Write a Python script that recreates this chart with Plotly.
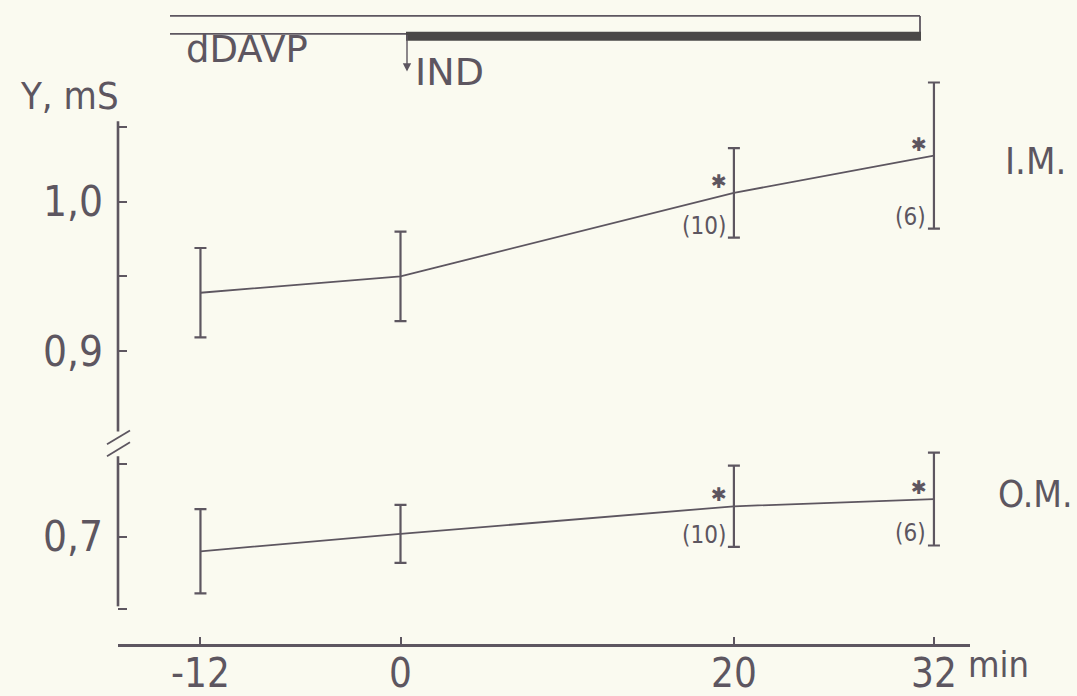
import plotly.graph_objects as go

# ---- data ----------------------------------------------------------------
minutes = [-12, 0, 20, 32]
im_mean = [0.939, 0.950, 1.006, 1.031]   # inner medulla
im_err = [0.030, 0.030, 0.030, 0.049]
om_mean = [0.690, 0.702, 0.721, 0.726]   # outer medulla
om_err = [0.029, 0.020, 0.028, 0.032]
n_labels = ["", "", "(10)", "(6)"]
signif = [False, False, True, True]

upper_ticks = [0.90, 0.95, 1.00, 1.05]
upper_text = ["0,9", "", "1,0", ""]
lower_ticks = [0.65, 0.70, 0.75]
lower_text = ["", "0,7", ""]
x_ticks = [-12, 0, 20, 32]
x_text = ["-12", "0", "20", "32"]

# ---- style ---------------------------------------------------------------
W, H = 1077, 696
K = 650 / 637            # vertical layout stretch
INK = "#5d5660"
BG = "#fafaf0"
FONT = "DejaVu Sans Condensed, DejaVu Sans, sans-serif"
WIDE = "DejaVu Sans, sans-serif"


def px(x):
    return x / W


def py(y):
    return 1 - y * K / H


fig = go.Figure()

for mean, err, axis in [(im_mean, im_err, "y"), (om_mean, om_err, "y2")]:
    fig.add_trace(go.Scatter(
        x=minutes, y=mean, yaxis=axis, mode="lines",
        line=dict(color=INK, width=1.8),
        error_y=dict(type="data", array=err, visible=True,
                     color=INK, thickness=2.2, width=6),
        hoverinfo="skip", showlegend=False,
    ))

    for xv, yv, ev, n, s in zip(minutes, mean, err, n_labels, signif):
        if s:
            fig.add_annotation(x=xv, y=yv, xref="x", yref=axis, text="✱",
                               showarrow=False, xshift=-15, yshift=12,
                               font=dict(family="DejaVu Sans", size=19, color=INK))
        if n:
            fig.add_annotation(x=xv, y=yv - ev, xref="x", yref=axis, text=n,
                               showarrow=False, xanchor="right", yanchor="bottom",
                               xshift=-6, yshift=-4,
                               font=dict(family=FONT, size=24, color=INK))

shapes = []
line_style = dict(color=INK, width=2.6)
shapes.append(dict(type="line", xref="paper", yref="paper",
                   x0=px(118), x1=px(118), y0=py(122), y1=py(434), line=line_style))
shapes.append(dict(type="line", xref="paper", yref="paper",
                   x0=px(118), x1=px(118), y0=py(459), y1=py(610), line=line_style))
for dy in (0, 12):
    shapes.append(dict(type="line", xref="paper", yref="paper",
                       x0=px(107), x1=px(130), y0=py(447 + dy), y1=py(433 + dy),
                       line=dict(color=INK, width=1.8)))

thin = dict(color=INK, width=1.8)
shapes += [
    dict(type="line", xref="paper", yref="paper",
         x0=px(170), x1=px(920), y0=py(16), y1=py(16), line=thin),
    dict(type="line", xref="paper", yref="paper",
         x0=px(170), x1=px(410), y0=py(34), y1=py(34), line=thin),
    dict(type="line", xref="paper", yref="paper",
         x0=px(920), x1=px(920), y0=py(16), y1=py(34), line=thin),
    dict(type="rect", xref="paper", yref="paper",
         x0=px(406), x1=px(921), y0=py(32), y1=py(41),
         fillcolor="#4a4848", line=dict(width=0)),
]

annotations = [
    dict(x=px(407), y=py(72), xref="paper", yref="paper", ax=0, ay=-38,
         showarrow=True, arrowhead=2, arrowsize=1.2, arrowwidth=1.4,
         arrowcolor=INK, text=""),
    dict(x=px(184), y=py(50), xref="paper", yref="paper", text="dDAVP",
         showarrow=False, xanchor="left", yanchor="middle",
         font=dict(family=WIDE, size=37, color=INK)),
    dict(x=px(413), y=py(72), xref="paper", yref="paper", text="IND",
         showarrow=False, xanchor="left", yanchor="middle",
         font=dict(family=WIDE, size=38, color=INK)),
    dict(x=px(18), y=py(97), xref="paper", yref="paper", text="Y, mS",
         showarrow=False, xanchor="left", yanchor="middle",
         font=dict(family=FONT, size=38, color=INK)),
    dict(x=px(1003), y=py(162), xref="paper", yref="paper", text="I.M.",
         showarrow=False, xanchor="left", yanchor="middle",
         font=dict(family=FONT, size=38, color=INK)),
    dict(x=px(996), y=py(497), xref="paper", yref="paper", text="O.M.",
         showarrow=False, xanchor="left", yanchor="middle",
         font=dict(family=FONT, size=37, color=INK)),
    dict(x=px(966), y=py(669), xref="paper", yref="paper", text="min",
         showarrow=False, xanchor="left", yanchor="middle",
         font=dict(family=FONT, size=36, color=INK)),
]
for a in annotations:
    fig.add_annotation(**a)

# linear time scale fitted through the four sampling points
PXMIN = 16.67
X0PX = 400.5
x_lo = (118 - X0PX) / PXMIN
x_hi = (970 - X0PX) / PXMIN

tick_font = dict(family=FONT, size=42, color=INK)

fig.update_layout(
    width=W, height=H,
    margin=dict(l=0, r=0, t=0, b=0),
    paper_bgcolor=BG, plot_bgcolor=BG,
    shapes=shapes,
    xaxis=dict(
        domain=[px(118), px(970)], range=[x_lo, x_hi], anchor="y2",
        showgrid=False, zeroline=False, showline=True,
        linecolor=INK, linewidth=3,
        tickmode="array", tickvals=x_ticks, ticktext=x_text,
        ticks="inside", ticklen=7, tickwidth=1.6, tickcolor=INK,
        tickfont=dict(family=FONT, size=40, color=INK),
        ticklabelstandoff=-8,
    ),
    yaxis=dict(
        domain=[py(430), py(70)],
        range=[1 - 227 / 1500, 1 + 133 / 1500],
        anchor="x", showgrid=False, zeroline=False, showline=False,
        tickmode="array", tickvals=upper_ticks, ticktext=upper_text,
        ticks="inside", ticklen=9, tickwidth=2, tickcolor=INK,
        tickfont=tick_font, ticklabelstandoff=14,
    ),
    yaxis2=dict(
        domain=[py(648), py(440)],
        range=[0.7 - 108 / 1460, 0.7 + 100 / 1460],
        anchor="x", showgrid=False, zeroline=False, showline=False,
        tickmode="array", tickvals=lower_ticks, ticktext=lower_text,
        ticks="inside", ticklen=9, tickwidth=2, tickcolor=INK,
        tickfont=tick_font, ticklabelstandoff=14,
    ),
)

fig.write_html("out.html")
